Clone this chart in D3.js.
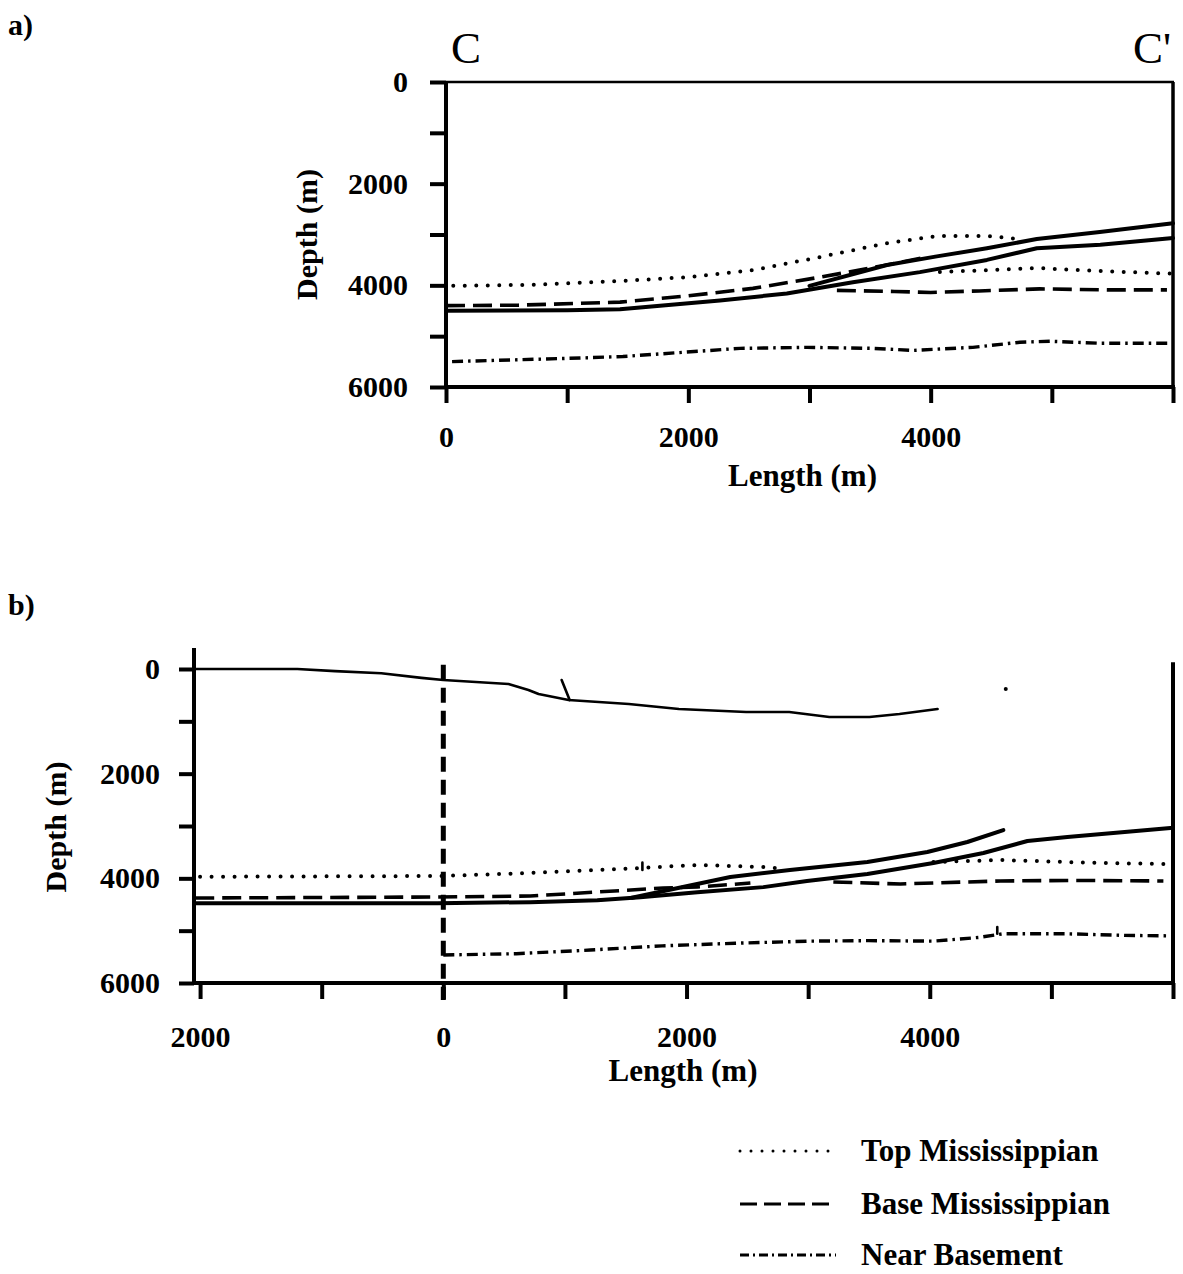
<!DOCTYPE html>
<html>
<head>
<meta charset="utf-8">
<script src="https://cdn.jsdelivr.net/npm/d3@7"></script>
<style>
body{margin:0;background:#fff;}
svg text{font-family:"Liberation Serif","Times New Roman",serif;fill:#000;}
</style>
</head>
<body>
<svg width="1183" height="1274"></svg>
<script>
// ---- DATA (length m, depth m) ----

// ticks
const depthTicks = [0,1000,2000,3000,4000,5000,6000];
const depthLabels = [0,2000,4000,6000];
const lengthTicksA = [0,1000,2000,3000,4000,5000,6000];
const lengthLabelsA = [0,2000,4000];
const lengthTicksB = [-2000,-1000,0,1000,2000,3000,4000,5000,6000];
const lengthLabelsB = [-2000,0,2000,4000];

// panel a) section C - C'
const aTopMissHanging = [[60,4010],[700,3990],[1436,3917],[1988,3840],[2533,3700],[3086,3445],[3639,3170],[4051,3030],[4464,3030],[4736,3090]];
const aTopMissFoot = [[4076,3740],[4464,3700],[4880,3660],[5400,3720],[5980,3770]];
const aBaseMissHanging = [[0,4400],[600,4390],[1436,4330],[1988,4210],[2533,4060],[3086,3840],[3639,3600],[3930,3460]];
const aBaseMissFoot = [[3226,4100],[3700,4120],[4000,4140],[4400,4110],[4900,4070],[5500,4090],[5950,4090]];
const aSolidLower = [[0,4500],[1000,4490],[1436,4470],[2261,4300],[2813,4160],[3358,3940],[3911,3740],[4464,3500],[4876,3270],[5400,3200],[6000,3070]];
const aSolidUpper = [[3000,4010],[3639,3600],[4051,3430],[4464,3270],[4876,3090],[5396,2950],[6000,2780]];
const aBasement = [[50,5500],[1106,5430],[1460,5400],[2426,5240],[2979,5220],[3523,5240],[3853,5280],[4348,5220],[4736,5120],[4983,5100],[5396,5140],[6000,5140]];

// panel b) extended section
const bSurface = [[-2050,0],[-1200,0],[-890,40],[-510,80],[-180,170],[0,210],[536,287],[700,400],[783,478],[1030,593],[1525,669],[1937,765],[2490,822],[2844,822],[3174,918],[3504,918],[3751,860],[4064,765]];
const bTopMissHanging = [[-2000,3970],[-49,3956],[715,3898],[1266,3841],[1620,3803],[2089,3745],[2632,3784],[2760,3810]];
const bTopMissFoot = [[4030,3688],[4581,3650],[5403,3707],[5954,3726]];
const bBaseMissHanging = [[-2040,4376],[-49,4357],[715,4338],[1266,4261],[1809,4185],[2089,4166],[2525,4089]];
const bBaseMissFoot = [[3207,4070],[3758,4108],[4581,4050],[5200,4040],[5921,4051]];
const bSolidLower = [[-2050,4474],[-49,4474],[715,4455],[1266,4417],[1620,4360],[2089,4264],[2632,4168],[2990,4050],[3487,3917],[4030,3707],[4441,3516],[4803,3287],[5132,3210],[5979,3038]];
const bSolidUpper = [[1550,4370],[2360,3975],[2850,3840],[3487,3688],[3980,3497],[4309,3306],[4605,3077]];
const bBasement = [[0,5465],[600,5440],[1209,5370],[1800,5290],[2400,5240],[3018,5200],[3500,5190],[4030,5200],[4400,5130],[4600,5060],[5132,5060],[5600,5090],[5979,5100]];
const bMarks = [[[973,210],[1039,593]],[[1637,3700],[1637,3840]],[[4555,4930],[4555,5060]]];
const bDots = [[4625,382]];

const legendLabels = ['Top Mississippian','Base Mississippian','Near Basement'];
const legendStyles = ['dotted','dashed','dashdot'];

// ---- STYLES ----
const styles = {
  solid:   {w:4,   dash:null,       cap:'round'},
  thin:    {w:2.6, dash:null,       cap:'round'},
  dotted:  {w:4,   dash:'0 11.5',   cap:'round'},
  dashed:  {w:3.6, dash:'19 8',     cap:'butt'},
  dashdot: {w:3.4, dash:'11 5 2.5 5', cap:'butt'}
};

const svg = d3.select('svg');
const font = 30;

const drawLine = (g, x, y, data, style) => {
  const s = styles[style];
  const line = d3.line().x(d => x(d[0])).y(d => y(d[1]));
  g.append('path')
    .attr('d', line(data))
    .attr('fill','none')
    .attr('stroke','#000')
    .attr('stroke-width', s.w)
    .attr('stroke-linecap', s.cap)
    .attr('stroke-linejoin','round')
    .attr('stroke-dasharray', s.dash);
};

const styleAxis = g => {
  g.select('.domain').remove();
  g.selectAll('.tick line').attr('stroke','#000').attr('stroke-width',4);
  g.selectAll('.tick text').attr('font-size',font).attr('font-weight','bold').attr('fill','#000')
    .style('font-family','"Liberation Serif", serif');
};

// ================= PANEL A =================
const xA = d3.scaleLinear().domain([0,6000]).range([446,1173]);
const yA = d3.scaleLinear().domain([0,6000]).range([82,387]);
const gA = svg.append('g');

gA.append('g')
  .attr('transform',`translate(0,${yA(6000)})`)
  .call(d3.axisBottom(xA).tickValues(lengthTicksA).tickSize(16).tickSizeOuter(0).tickPadding(23)
        .tickFormat(d => lengthLabelsA.includes(d) ? d : ''))
  .call(styleAxis);

gA.append('g')
  .attr('transform',`translate(${xA(0)},0)`)
  .call(d3.axisLeft(yA).tickValues(depthTicks).tickSize(16).tickSizeOuter(0).tickPadding(22)
        .tickFormat(d => depthLabels.includes(d) ? d : ''))
  .call(styleAxis);

// frame
gA.append('line').attr('x1',xA(0)).attr('x2',xA(0)).attr('y1',yA(0)-1).attr('y2',yA(6000)+2)
  .attr('stroke','#000').attr('stroke-width',4);
gA.append('line').attr('x1',xA(0)).attr('x2',xA(6000)+2).attr('y1',yA(6000)).attr('y2',yA(6000))
  .attr('stroke','#000').attr('stroke-width',4);
gA.append('line').attr('x1',xA(0)).attr('x2',xA(6000)+1).attr('y1',yA(0)).attr('y2',yA(0))
  .attr('stroke','#000').attr('stroke-width',2.5);
gA.append('line').attr('x1',xA(6000)).attr('x2',xA(6000)).attr('y1',yA(0)).attr('y2',yA(6000))
  .attr('stroke','#000').attr('stroke-width',3.5);

drawLine(gA, xA, yA, aTopMissHanging, 'dotted');
drawLine(gA, xA, yA, aTopMissFoot, 'dotted');
drawLine(gA, xA, yA, aBaseMissHanging, 'dashed');
drawLine(gA, xA, yA, aBaseMissFoot, 'dashed');
drawLine(gA, xA, yA, aBasement, 'dashdot');
drawLine(gA, xA, yA, aSolidLower, 'solid');
drawLine(gA, xA, yA, aSolidUpper, 'solid');

gA.append('text').attr('x',8).attr('y',35).attr('font-size',font).attr('font-weight','bold').text('a)');
gA.append('text').attr('x',451).attr('y',63).attr('font-size',45).text('C');
gA.append('text').attr('x',1133).attr('y',63).attr('font-size',45).text("C'");
gA.append('text').attr('x',(xA(0)+xA(6000))/2 - 7).attr('y',486).attr('text-anchor','middle')
  .attr('font-size',31).attr('font-weight','bold').text('Length (m)');
gA.append('text').attr('transform',`translate(317,${(yA(0)+yA(6000))/2})rotate(-90)`).attr('text-anchor','middle')
  .attr('font-size',font).attr('font-weight','bold').text('Depth (m)');

// ================= PANEL B =================
const xB = d3.scaleLinear().domain([-2050,6000]).range([194,1173]);
const yB = d3.scaleLinear().domain([0,6000]).range([669,983]);
const gB = svg.append('g');

gB.append('g')
  .attr('transform',`translate(0,${yB(6000)})`)
  .call(d3.axisBottom(xB).tickValues(lengthTicksB).tickSize(16).tickSizeOuter(0).tickPadding(27)
        .tickFormat(d => lengthLabelsB.includes(d) ? Math.abs(d) : ''))
  .call(styleAxis);

gB.append('g')
  .attr('transform',`translate(${xB(-2050)},0)`)
  .call(d3.axisLeft(yB).tickValues(depthTicks).tickSize(15).tickSizeOuter(0).tickPadding(19)
        .tickFormat(d => depthLabels.includes(d) ? d : ''))
  .call(styleAxis);

gB.append('line').attr('x1',xB(-2050)).attr('x2',xB(-2050)).attr('y1',yB(-400)).attr('y2',yB(6000)+2)
  .attr('stroke','#000').attr('stroke-width',4);
gB.append('line').attr('x1',xB(-2050)).attr('x2',xB(6000)+2).attr('y1',yB(6000)).attr('y2',yB(6000))
  .attr('stroke','#000').attr('stroke-width',4);
gB.append('line').attr('x1',xB(6000)).attr('x2',xB(6000)).attr('y1',yB(-130)).attr('y2',yB(6000)+2)
  .attr('stroke','#000').attr('stroke-width',4);

// section origin marker
gB.append('line').attr('x1',xB(0)).attr('x2',xB(0)).attr('y1',yB(-80)).attr('y2',yB(6000)+17)
  .attr('stroke','#000').attr('stroke-width',5).attr('stroke-dasharray','15 8');

drawLine(gB, xB, yB, bSurface, 'thin');
drawLine(gB, xB, yB, bTopMissHanging, 'dotted');
drawLine(gB, xB, yB, bTopMissFoot, 'dotted');
drawLine(gB, xB, yB, bBaseMissHanging, 'dashed');
drawLine(gB, xB, yB, bBaseMissFoot, 'dashed');
drawLine(gB, xB, yB, bBasement, 'dashdot');
drawLine(gB, xB, yB, bSolidLower, 'solid');
drawLine(gB, xB, yB, bSolidUpper, 'solid');
bMarks.forEach(m => drawLine(gB, xB, yB, m, 'thin'));
gB.selectAll('circle.dot').data(bDots).enter().append('circle')
  .attr('cx', d => xB(d[0])).attr('cy', d => yB(d[1])).attr('r',2).attr('fill','#000');

gB.append('text').attr('x',8).attr('y',615).attr('font-size',font).attr('font-weight','bold').text('b)');
gB.append('text').attr('x',683).attr('y',1081).attr('text-anchor','middle')
  .attr('font-size',31).attr('font-weight','bold').text('Length (m)');
gB.append('text').attr('transform',`translate(66,${(yB(0)+yB(6000))/2 + 1})rotate(-90)`).attr('text-anchor','middle')
  .attr('font-size',font).attr('font-weight','bold').text('Depth (m)');

// ================= LEGEND =================
const legend = svg.append('g');
const legendY = [1151, 1204, 1255];
legendLabels.forEach((lab, i) => {
  const s = styles[legendStyles[i]];
  legend.append('line').attr('x1',740).attr('x2',836).attr('y1',legendY[i]).attr('y2',legendY[i])
    .attr('stroke','#000').attr('stroke-width',3)
    .attr('stroke-linecap', s.cap)
    .attr('stroke-dasharray', i === 0 ? '0 11' : (i === 1 ? '17 7' : '9 4 2 4'));
  legend.append('text').attr('x',861).attr('y',legendY[i] + 10)
    .attr('font-size',31).attr('font-weight','bold').text(lab);
});
</script>
</body>
</html>
